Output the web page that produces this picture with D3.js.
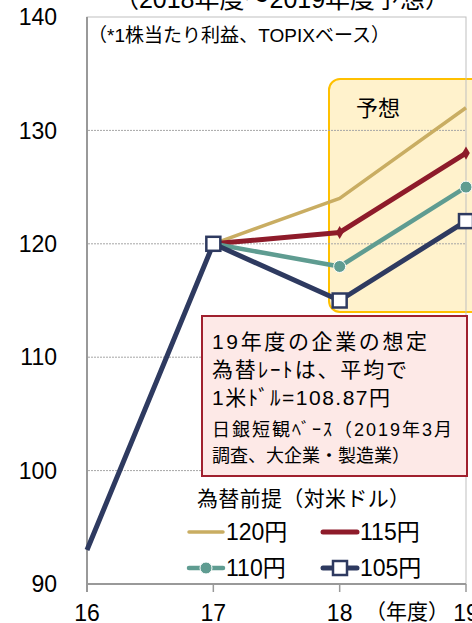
<!DOCTYPE html>
<html>
<head>
<meta charset="utf-8">
<script src="https://cdn.jsdelivr.net/npm/d3@7"></script>
<style>
  body { margin: 0; background: #fff; }
  text { font-family: "Liberation Sans", Arial, "Noto Sans CJK JP", sans-serif; fill: #000; }
</style>
</head>
<body>
<script>
// fiscal years and assumed exchange-rate scenarios (EPS index)
var years = [16, 17, 18, 19];
var yTicks = [90, 100, 110, 120, 130, 140];
var gridTicks = [100, 110, 120, 130];
var s120 = [null, 120, 124, 132];
var s115 = [null, 120, 121, 128];
var s110 = [null, 120, 118, 125];
var s105 = [93, 120, 115, 122];
var seriesNames = ["120円", "115円", "110円", "105円"];
var noteTexts = ["19年度の企業の想定", "為替ﾚｰﾄは、平均で", "1米ﾄﾞﾙ=108.87円",
                 "日銀短観ﾍﾞｰｽ（2019年3月", "調査、大企業・製造業）"];

var W = 472, H = 623;
var svg = d3.select("body").append("svg").attr("width", W).attr("height", H);

var x = d3.scaleLinear().domain([16, 19]).range([87, 466]);
var y = d3.scaleLinear().domain([90, 140]).range([584, 17]);

var series = [
  { name: seriesNames[0], values: s120, color: "#C9AD62", width: 3.5, marker: "none", legMarker: "none" },
  { name: seriesNames[1], values: s115, color: "#8E1B2A", width: 5, marker: "diamond", legMarker: "none" },
  { name: seriesNames[2], values: s110, color: "#5F9C91", width: 4.5, marker: "circle", legMarker: "circle" },
  { name: seriesNames[3], values: s105, color: "#2E3A60", width: 5, marker: "square", legMarker: "square" }
];

// title (cut off at the top)
svg.append("text")
  .attr("x", 282).attr("y", 8)
  .attr("text-anchor", "middle")
  .style("font-size", "25px")
  .text("（2018年度～2019年度予想）");

// forecast box
svg.append("rect")
  .attr("x", 329).attr("y", 79).attr("width", 160).attr("height", 233)
  .attr("rx", 11)
  .style("fill", "#FFF2CC").style("stroke", "#FFC000").style("stroke-width", 2);
svg.append("text")
  .attr("x", 378).attr("y", 108).attr("dy", "0.36em")
  .attr("text-anchor", "middle")
  .style("font-size", "22px")
  .text("予想");

// grid lines
svg.selectAll(".grid").data(gridTicks).enter().append("line")
  .attr("class", "grid")
  .attr("x1", x(16) + 1).attr("x2", x(19))
  .attr("y1", function(d) { return y(d); }).attr("y2", function(d) { return y(d); })
  .style("stroke", "#A6A6A6").style("stroke-width", 1).style("stroke-dasharray", "2,1");

// plot frame
svg.append("rect")
  .attr("x", x(16)).attr("y", y(140)).attr("width", x(19) - x(16)).attr("height", y(90) - y(140))
  .style("fill", "none").style("stroke", "#BFBFBF").style("stroke-width", 1);
svg.append("line")
  .attr("x1", x(16)).attr("x2", x(16)).attr("y1", y(140)).attr("y2", y(90) + 8)
  .style("stroke", "#999").style("stroke-width", 2);
svg.append("line")
  .attr("x1", x(16)).attr("x2", x(19)).attr("y1", y(90)).attr("y2", y(90))
  .style("stroke", "#999").style("stroke-width", 2);
svg.selectAll(".xtick").data(years).enter().append("line")
  .attr("x1", function(d) { return x(d); }).attr("x2", function(d) { return x(d); })
  .attr("y1", y(90)).attr("y2", y(90) + 8)
  .style("stroke", "#999").style("stroke-width", 1.5);

// note in top box
svg.append("text")
  .attr("x", 88).attr("y", 35).attr("dy", "0.36em")
  .attr("textLength", 302).attr("lengthAdjust", "spacing")
  .style("font-size", "19px")
  .text("（*1株当たり利益、TOPIXベース）");

// y labels
svg.selectAll(".ylab").data(yTicks).enter().append("text")
  .attr("x", 57).attr("y", function(d) { return y(d); }).attr("dy", "0.36em")
  .attr("text-anchor", "end")
  .style("font-size", "23px")
  .text(function(d) { return d; });

// x labels
svg.selectAll(".xlab").data(years).enter().append("text")
  .attr("x", function(d) { return x(d); }).attr("y", 621)
  .attr("text-anchor", "middle")
  .style("font-size", "23px")
  .text(function(d) { return d; });
svg.append("text")
  .attr("x", 407).attr("y", 611).attr("dy", "0.36em")
  .attr("text-anchor", "middle")
  .style("font-size", "21px")
  .text("（年度）");

// lines
var line = d3.line()
  .defined(function(d) { return d.v !== null; })
  .x(function(d) { return x(d.yr); })
  .y(function(d) { return y(d.v); });

function drawMarker(g, type, color, cx, cy) {
  if (type === "circle") {
    g.append("circle").attr("cx", cx).attr("cy", cy).attr("r", 6)
      .style("fill", color).style("stroke", "#fff").style("stroke-width", 1);
  } else if (type === "square") {
    g.append("rect").attr("x", cx - 7).attr("y", cy - 7).attr("width", 14).attr("height", 14)
      .style("fill", "#fff").style("stroke", color).style("stroke-width", 2.5);
  } else if (type === "diamond") {
    g.append("path")
      .attr("d", d3.symbol().type(d3.symbolDiamond).size(50)())
      .attr("transform", "translate(" + cx + "," + cy + ")")
      .style("fill", color);
  }
}

series.forEach(function(s) {
  var pts = years.map(function(yr, i) { return { yr: yr, v: s.values[i] }; });
  var g = svg.append("g");
  g.append("path").datum(pts).attr("d", line)
    .style("fill", "none").style("stroke", s.color).style("stroke-width", s.width)
    .style("stroke-linejoin", "round");
  pts.forEach(function(p) {
    if (p.v !== null && p.yr > 16) drawMarker(g, s.marker, s.color, x(p.yr), y(p.v));
  });
});

// annotation box
svg.append("rect")
  .attr("x", 202).attr("y", 316).attr("width", 265).attr("height", 160)
  .style("fill", "#FDE9E7").style("stroke", "#A0202E").style("stroke-width", 2);
var noteLayout = [
  { y: 341, size: 21, w: 215 },
  { y: 369, size: 21, w: 195 },
  { y: 397, size: 21, w: 178 },
  { y: 430, size: 18, w: 240 },
  { y: 456, size: 18, w: 198 }
];
svg.selectAll(".note").data(noteTexts).enter().append("text")
  .attr("x", 212).attr("y", function(d, i) { return noteLayout[i].y; }).attr("dy", "0.36em")
  .attr("textLength", function(d, i) { return noteLayout[i].w; })
  .attr("lengthAdjust", "spacing")
  .style("font-size", function(d, i) { return noteLayout[i].size + "px"; })
  .text(function(d) { return d; });

// legend
svg.append("text")
  .attr("x", 197).attr("y", 498).attr("dy", "0.36em")
  .attr("textLength", 213).attr("lengthAdjust", "spacing")
  .style("font-size", "21px")
  .text("為替前提（対米ドル）");
var legendPos = [[189, 532], [323, 532], [189, 568], [323, 568]];
series.forEach(function(s, i) {
  var lx = legendPos[i][0], ly = legendPos[i][1];
  var g = svg.append("g");
  g.append("line").attr("x1", lx).attr("x2", lx + 34).attr("y1", ly).attr("y2", ly)
    .style("stroke", s.color).style("stroke-width", s.width).style("stroke-linecap", "round");
  drawMarker(g, s.legMarker, s.color, lx + 17, ly);
  g.append("text")
    .attr("x", lx + 37).attr("y", ly).attr("dy", "0.36em")
    .style("font-size", "23px")
    .text(s.name);
});
</script>
</body>
</html>
